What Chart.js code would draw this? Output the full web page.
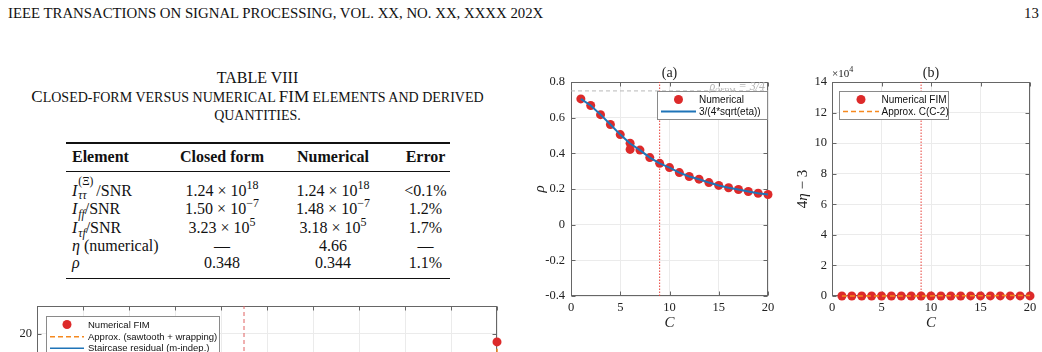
<!DOCTYPE html>
<html>
<head>
<meta charset="utf-8">
<script src="https://cdn.jsdelivr.net/npm/chart.js@4.4.1/dist/chart.umd.min.js"></script>
<style>
html, body { margin: 0; padding: 0; background: #fff; }
body { width: 1042px; height: 352px; overflow: hidden; position: relative; font-family: "Liberation Serif", serif; color: #111; }
.abs { position: absolute; white-space: nowrap; }
canvas { position: absolute; }
.cap { font-size: 14px; text-transform: uppercase; }
.cap b { font-weight: normal; font-size: 17px; }
.r { position: absolute; left: 0; width: 530px; height: 20px; line-height: 20px; font-size: 16px; }
.r > div { position: absolute; top: 0; white-space: nowrap; }
.c1 { left: 72px; }
.c2 { left: 222px; transform: translateX(-50%); }
.c3 { left: 333px; transform: translateX(-50%); }
.c4 { left: 425.5px; transform: translateX(-50%); }
.x { margin: 0 4px; }
sup { font-size: 12px; vertical-align: 7px; line-height: 0; }
sub { font-size: 11.5px; vertical-align: -4px; line-height: 0; font-style: italic; margin-left: 1px; }
.ss { display: inline-block; position: relative; width: 19px; height: 16px; vertical-align: -3px; }
.ss span { position: absolute; left: 1px; font-size: 11.5px; line-height: 12px; }
.ss .sp { top: -8px; }
.ss .sb { top: 6px; font-style: italic; }
.rule { position: absolute; left: 66px; width: 384px; background: #111; }
</style>
</head>
<body>
<div class="abs" style="left:8px;top:5px;font-size:14.8px;line-height:16px;">IEEE TRANSACTIONS ON SIGNAL PROCESSING, VOL. XX, NO. XX, XXXX 202X</div>
<div class="abs" style="left:1024px;top:5px;font-size:14.8px;line-height:16px;">13</div>

<div class="abs" style="left:257.5px;top:69px;font-size:16px;line-height:18px;transform:translateX(-50%);">TABLE VIII</div>
<div class="abs cap" style="left:257.5px;top:87px;line-height:19px;transform:translateX(-50%);"><b>C</b>losed-form versus numerical <b>FIM</b> elements and derived</div>
<div class="abs cap" style="left:257.5px;top:106px;line-height:19px;transform:translateX(-50%);">quantities.</div>

<div class="rule" style="top:142px;height:1.5px;"></div>
<div class="r" style="top:147px;font-weight:bold;">
  <div class="c1">Element</div><div class="c2">Closed form</div><div class="c3">Numerical</div><div class="c4">Error</div>
</div>
<div class="rule" style="top:170.5px;height:1px;"></div>
<div class="r" style="top:181px;">
  <div class="c1"><i>I</i><span class="ss"><span class="sp">(Ξ)</span><span class="sb">ττ</span></span>/SNR</div>
  <div class="c2">1.24<span class="x">×</span>10<sup>18</sup></div><div class="c3">1.24<span class="x">×</span>10<sup>18</sup></div><div class="c4">&lt;0.1%</div>
</div>
<div class="r" style="top:199px;">
  <div class="c1"><i>I</i><sub>ff</sub>/SNR</div>
  <div class="c2">1.50<span class="x">×</span>10<sup>−7</sup></div><div class="c3">1.48<span class="x">×</span>10<sup>−7</sup></div><div class="c4">1.2%</div>
</div>
<div class="r" style="top:218px;">
  <div class="c1"><i>I</i><sub>τf</sub>/SNR</div>
  <div class="c2">3.23<span class="x">×</span>10<sup>5</sup></div><div class="c3">3.18<span class="x">×</span>10<sup>5</sup></div><div class="c4">1.7%</div>
</div>
<div class="r" style="top:236px;">
  <div class="c1"><i>η</i> (numerical)</div>
  <div class="c2">—</div><div class="c3">4.66</div><div class="c4">—</div>
</div>
<div class="r" style="top:253px;">
  <div class="c1"><i>ρ</i></div>
  <div class="c2">0.348</div><div class="c3">0.344</div><div class="c4">1.1%</div>
</div>
<div class="rule" style="top:277.5px;height:1.5px;"></div>

<canvas id="ca" width="250" height="280" style="left:530px;top:60px;width:250px;height:280px;"></canvas>
<canvas id="cb" width="262" height="280" style="left:780px;top:60px;width:262px;height:280px;"></canvas>
<canvas id="cc" width="530" height="360" style="left:0px;top:290px;width:530px;height:360px;"></canvas>

<script>
// panel (a): correlation coefficient vs C
var rhoC = [1, 2, 3, 4, 5, 6, 6, 7, 8, 9, 10, 11, 12, 13, 14, 15, 16, 17, 18, 19, 20];
var rhoNumerical = [0.705, 0.668, 0.617, 0.562, 0.505, 0.457, 0.422, 0.418, 0.376, 0.344, 0.320, 0.292, 0.270, 0.255, 0.236, 0.220, 0.207, 0.197, 0.186, 0.176, 0.169];
var fitC = [1, 2, 3, 4, 5, 6, 7, 8, 9, 10, 11, 12, 13, 14, 15, 16, 17, 18, 19, 20];
var rhoFit = [0.705, 0.668, 0.617, 0.562, 0.505, 0.455, 0.418, 0.376, 0.344, 0.320, 0.292, 0.270, 0.255, 0.236, 0.220, 0.207, 0.197, 0.186, 0.176, 0.169];
var rhoOfdm = 0.75;
var cMarker = 9;

// panel (b): 4*eta - 3 vs C
var etaC = [1, 2, 3, 4, 5, 6, 7, 8, 9, 10, 11, 12, 13, 14, 15, 16, 17, 18, 19, 20];
var etaNumerical = [1.5, 2.0, 2.9, 4.1, 5.8, 7.8, 9.9, 13, 16, 19, 24, 28, 32, 38, 44, 50, 55, 62, 70, 78];
var etaApprox = [-1, 0, 3, 8, 15, 24, 35, 48, 63, 80, 99, 120, 143, 168, 195, 224, 255, 288, 323, 360];

// panel (c): only the top edge is on the page
var fimM = [20];
var fimValue = [19.4];
var sawM = [20, 20];
var sawValue = [18.9, 4];
var stairM = [0, 20];
var stairValue = [1, 1];

var RED = '#dd2a2a', BLUE = '#1f74b8', ORANGE = '#f5891f', MARK = '#e8403a';
var SERIF = '"Liberation Serif", serif', SANS = '"Liberation Sans", sans-serif';

function pts(xs, ys) {
  return xs.map(function (x, i) { return { x: x, y: ys[i] }; });
}

function runs(ctx, list, x, y, align) {
  var w = 0;
  list.forEach(function (r) { ctx.font = r.f; w += ctx.measureText(r.t).width; });
  var cx = align === 'right' ? x - w : (align === 'center' ? x - w / 2 : x);
  ctx.textAlign = 'left';
  list.forEach(function (r) {
    ctx.font = r.f;
    ctx.fillText(r.t, cx, y + (r.dy || 0));
    cx += ctx.measureText(r.t).width;
  });
}

// box, inward ticks, titles and in-axes legend (MATLAB look)
function makeDecor(spec) {
  return {
    id: 'decor',
    beforeDatasetsDraw: function (chart) {
      var ctx = chart.ctx, a = chart.chartArea, x = chart.scales.x, y = chart.scales.y;
      ctx.save();
      ctx.strokeStyle = '#666';
      ctx.lineWidth = 1;
      var l = Math.round(a.left) + 0.5, r = Math.round(a.right) - 0.5;
      var t = Math.round(a.top) + 0.5, b = Math.round(a.bottom) - 0.5;
      ctx.strokeRect(l, t, r - l, b - t);
      ctx.beginPath();
      x.ticks.forEach(function (tk) {
        var px = Math.round(x.getPixelForValue(tk.value)) + 0.5;
        ctx.moveTo(px, b); ctx.lineTo(px, b - 4);
        ctx.moveTo(px, t); ctx.lineTo(px, t + 4);
      });
      y.ticks.forEach(function (tk) {
        var py = Math.round(y.getPixelForValue(tk.value)) + 0.5;
        ctx.moveTo(l, py); ctx.lineTo(l + 4, py);
        ctx.moveTo(r, py); ctx.lineTo(r - 4, py);
      });
      ctx.stroke();
      ctx.restore();
    },
    afterDraw: function (chart) {
      var ctx = chart.ctx, a = chart.chartArea, x = chart.scales.x, y = chart.scales.y;
      var mid = (a.left + a.right) / 2;
      ctx.save();
      ctx.fillStyle = '#222';
      ctx.textBaseline = 'middle';
      if (spec.title) runs(ctx, [{ t: spec.title, f: '14px ' + SERIF }], mid, spec.titleY, 'center');
      if (spec.xLabel) runs(ctx, spec.xLabel, mid, spec.xLabelY, 'center');
      if (spec.yLabel) {
        ctx.save();
        ctx.translate(spec.yLabelX, (a.top + a.bottom) / 2);
        ctx.rotate(-Math.PI / 2);
        runs(ctx, spec.yLabel, 0, 0, 'center');
        ctx.restore();
      }
      if (spec.exponent) runs(ctx, spec.exponent, a.left, spec.exponentY, 'left');
      var lg = spec.legend;
      if (lg) {
        ctx.fillStyle = '#fff';
        ctx.fillRect(lg.x, lg.y, lg.w, lg.h);
        ctx.strokeStyle = '#8a8a8a';
        ctx.lineWidth = 1;
        ctx.strokeRect(lg.x + 0.5, lg.y + 0.5, lg.w, lg.h);
        lg.items.forEach(function (it, i) {
          var iy = lg.rowY[i];
          if (it.kind === 'dot') {
            ctx.fillStyle = it.color;
            ctx.beginPath();
            ctx.arc((lg.lineX0 + lg.lineX1) / 2, iy, 4.5, 0, Math.PI * 2);
            ctx.fill();
          } else {
            ctx.strokeStyle = it.color;
            ctx.lineWidth = it.width;
            ctx.setLineDash(it.dash || []);
            ctx.beginPath();
            ctx.moveTo(lg.lineX0, iy); ctx.lineTo(lg.lineX1, iy);
            ctx.stroke();
            ctx.setLineDash([]);
          }
          ctx.fillStyle = '#111';
          ctx.font = lg.font;
          ctx.textAlign = 'left';
          ctx.fillText(it.label, lg.textX, iy + 0.5);
        });
      }
      if (spec.note) {
        ctx.fillStyle = '#b4b4b4';
        ctx.textBaseline = 'alphabetic';
        runs(ctx, spec.note.runs, x.getPixelForValue(spec.note.x) - 3, y.getPixelForValue(spec.note.y) - 1, 'right');
      }
      ctx.restore();
    }
  };
}

function axes(o) {
  return {
    x: {
      type: 'linear', min: o.xMin, max: o.xMax,
      ticks: { stepSize: o.xStep, padding: 4, maxRotation: 0, autoSkip: false, color: '#222', font: { family: SERIF, size: 12.5 } },
      grid: { color: '#ebebeb', drawTicks: false },
      border: { display: false },
      afterFit: function (s) { s.height = o.xHeight; }
    },
    y: {
      type: 'linear', min: o.yMin, max: o.yMax,
      ticks: { stepSize: o.yStep, padding: o.yPad, autoSkip: false, color: '#222', font: { family: SERIF, size: 12.5 }, callback: o.yFmt },
      grid: { color: '#ebebeb', drawTicks: false },
      border: { display: false },
      afterBuildTicks: o.yFilter,
      afterFit: function (s) { s.width = o.yWidth; }
    }
  };
}

function common(padding, scales) {
  return {
    responsive: false, animation: false, events: [],
    layout: { padding: padding },
    plugins: { legend: { display: false }, tooltip: { enabled: false } },
    scales: scales
  };
}

// ---------- (a) ----------
new Chart(document.getElementById('ca'), {
  type: 'scatter',
  data: {
    datasets: [
      { data: pts(fitC, rhoFit), showLine: true, borderColor: BLUE, borderWidth: 2, pointRadius: 0, clip: false },
      { data: pts(rhoC, rhoNumerical), backgroundColor: RED, borderWidth: 0, pointRadius: 4.5, clip: false },
      { data: pts([0, 20], [rhoOfdm, rhoOfdm]), showLine: true, borderColor: '#b8b8b8', borderWidth: 1, borderDash: [4, 3], pointRadius: 0 },
      { data: pts([cMarker, cMarker], [-0.4, 0.8]), showLine: true, borderColor: MARK, borderWidth: 1, borderDash: [1.5, 1.5], pointRadius: 0 }
    ]
  },
  options: common({ top: 22, right: 12, left: 0, bottom: 0 }, axes({
    xMin: 0, xMax: 20, xStep: 5, xHeight: 44,
    yMin: -0.4, yMax: 0.8, yStep: 0.2, yPad: 6, yWidth: 41,
    yFmt: function (v) { return Math.abs(v) < 1e-9 ? '0' : v.toFixed(1); }
  })),
  plugins: [makeDecor({
    title: '(a)', titleY: 13,
    xLabel: [{ t: 'C', f: 'italic 15px ' + SERIF }], xLabelY: 263,
    yLabel: [{ t: 'ρ', f: 'italic 15px ' + SERIF }], yLabelX: 10,
    note: { x: 20, y: rhoOfdm, runs: [{ t: 'ρ', f: 'italic 12px ' + SERIF }, { t: 'OFDM', f: '7px ' + SERIF, dy: 2 }, { t: ' = 3/4', f: 'italic 12px ' + SERIF }] },
    legend: {
      x: 127, y: 31, w: 110, h: 28, rowY: [39.5, 51.5], lineX0: 131, lineX1: 166, textX: 169,
      font: '10px ' + SANS,
      items: [
        { kind: 'dot', color: RED, label: 'Numerical' },
        { kind: 'line', color: BLUE, width: 2, label: '3/(4*sqrt(eta))' }
      ]
    }
  })]
});

// ---------- (b) ----------
new Chart(document.getElementById('cb'), {
  type: 'scatter',
  data: {
    datasets: [
      { data: pts(etaC, etaApprox), showLine: true, borderColor: ORANGE, borderWidth: 1.5, borderDash: [5, 3], pointRadius: 0, clip: false },
      { data: pts(etaC, etaNumerical), backgroundColor: RED, borderWidth: 0, pointRadius: 4.5, clip: false },
      { data: pts([cMarker, cMarker], [0, 140000]), showLine: true, borderColor: MARK, borderWidth: 1, borderDash: [1.5, 1.5], pointRadius: 0 }
    ]
  },
  options: common({ top: 22, right: 12, left: 0, bottom: 0 }, axes({
    xMin: 0, xMax: 20, xStep: 5, xHeight: 44,
    yMin: 0, yMax: 140000, yStep: 20000, yPad: 5, yWidth: 52,
    yFmt: function (v) { return String(v / 10000); }
  })),
  plugins: [makeDecor({
    title: '(b)', titleY: 13,
    xLabel: [{ t: 'C', f: 'italic 15px ' + SERIF }], xLabelY: 263,
    yLabel: [{ t: '4', f: '15px ' + SERIF }, { t: 'η', f: 'italic 15px ' + SERIF }, { t: ' − 3', f: '15px ' + SERIF }], yLabelX: 23,
    exponent: [{ t: '×10', f: '11px ' + SERIF }, { t: '4', f: '8px ' + SERIF, dy: -4 }], exponentY: 14,
    legend: {
      x: 59, y: 31, w: 109, h: 28, rowY: [39.5, 51.5], lineX0: 63, lineX1: 99, textX: 101.5,
      font: '10px ' + SANS,
      items: [
        { kind: 'dot', color: RED, label: 'Numerical FIM' },
        { kind: 'line', color: ORANGE, width: 1.5, dash: [5, 3], label: 'Approx. C(C-2)' }
      ]
    }
  })]
});

// ---------- (c) ----------
new Chart(document.getElementById('cc'), {
  type: 'scatter',
  data: {
    datasets: [
      { data: pts(sawM, sawValue), showLine: true, borderColor: ORANGE, borderWidth: 1.5, borderDash: [5, 3], pointRadius: 0, clip: false },
      { data: pts(stairM, stairValue), showLine: true, borderColor: BLUE, borderWidth: 1.5, pointRadius: 0 },
      { data: pts(fimM, fimValue), backgroundColor: RED, borderWidth: 0, pointRadius: 4.5, clip: false },
      { data: pts([cMarker, cMarker], [0, 22]), showLine: true, borderColor: '#e06060', borderWidth: 1, borderDash: [4, 3], pointRadius: 0 }
    ]
  },
  options: common({ top: 16, right: 33, left: 0, bottom: 0 }, axes({
    xMin: 0, xMax: 20, xStep: 2, xHeight: 40,
    yMin: 0, yMax: 22, yStep: 5, yPad: 5, yWidth: 37,
    yFmt: function (v) { return String(v); },
    yFilter: function (s) { s.ticks = s.ticks.filter(function (t) { return t.value % 5 === 0; }); }
  })),
  plugins: [makeDecor({
    legend: {
      x: 46, y: 26, w: 173, h: 70, rowY: [34.5, 46.7, 58.3], lineX0: 50, lineX1: 84, textX: 88,
      font: '9.5px ' + SANS,
      items: [
        { kind: 'dot', color: RED, label: 'Numerical FIM' },
        { kind: 'line', color: ORANGE, width: 1.5, dash: [5, 3], label: 'Approx. (sawtooth + wrapping)' },
        { kind: 'line', color: BLUE, width: 1.5, label: 'Staircase residual (m-indep.)' }
      ]
    }
  })]
});
</script>
</body>
</html>
